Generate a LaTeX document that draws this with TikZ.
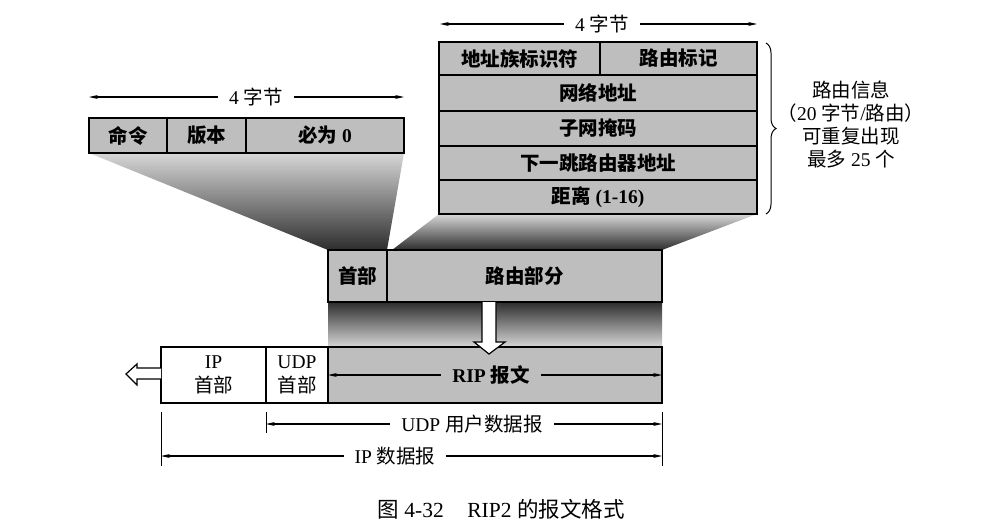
\documentclass[tikz,border=0pt]{standalone}
\usepackage{fontspec}
\setmainfont{Liberation Serif}
\newfontfamily\cjk{Noto Sans CJK SC}
\usetikzlibrary{arrows.meta,decorations.pathreplacing,calc}
\definecolor{boxgray}{RGB}{190,190,190}
\definecolor{darkshade}{RGB}{45,45,45}
\definecolor{lightshade}{RGB}{215,215,215}
\newcommand\myfs{\fontsize{19.5pt}{24pt}\selectfont}
\begin{document}
\begin{tikzpicture}[x=1pt,y=-1pt,
  cell/.style={draw, line width=1.3pt, fill=boxgray, inner sep=0pt, outer sep=0pt, font=\myfs\bfseries, align=center},
  wcell/.style={cell, fill=white, font=\myfs},
  dim/.style={{Stealth[length=9pt,width=4pt]}-{Stealth[length=9pt,width=4pt]}, line width=1.1pt},
  dimlab/.style={fill=white, inner xsep=11pt, inner ysep=2pt, font=\myfs},
  ext/.style={line width=0.9pt},
  hollow/.style={draw, line width=1.2pt, fill=white, line join=miter}
]
\useasboundingbox (0,0) rectangle (999,530);

% shadings
\shade[top color=lightshade, bottom color=darkshade] (89,153) -- (404,153) -- (387,250) -- (328,250) -- cycle;
\shade[top color=lightshade, bottom color=darkshade] (439,214) -- (757,214) -- (662,250) -- (392,250) -- cycle;
\shade[top color=darkshade, bottom color=lightshade] (328,302) rectangle (662,347);

% left header
\node[cell, minimum width=78pt, minimum height=35pt] (cmd) at (128,135.5) {\cjk 命令};
\node[cell, minimum width=79pt, minimum height=35pt] (ver) at (206.5,135.5) {\cjk 版本};
\node[cell, minimum width=158pt, minimum height=35pt] (zero) at (325,135.5) {{\cjk 必为} 0};

% route entry table
\node[cell, minimum width=161pt, minimum height=33pt] (af) at (519.5,58.5) {\cjk 地址族标识符};
\node[cell, minimum width=157pt, minimum height=33pt] (tag) at (678.5,58.5) {\cjk 路由标记};
\node[cell, minimum width=318pt, minimum height=36pt] (net) at (598,93) {\cjk 网络地址};
\node[cell, minimum width=318pt, minimum height=35pt] (mask) at (598,128.5) {\cjk 子网掩码};
\node[cell, minimum width=318pt, minimum height=34pt] (nh) at (598,163) {\cjk 下一跳路由器地址};
\node[cell, minimum width=318pt, minimum height=34pt] (dist) at (598,197) {{\cjk 距离} (1-16)};

% RIP message
\node[cell, minimum width=59pt, minimum height=52pt] (hdr) at (357.5,276) {\cjk 首部};
\node[cell, minimum width=275pt, minimum height=52pt] (rt) at (524.5,276) {\cjk 路由部分};

% bottom row
\node[wcell, minimum width=105pt, minimum height=56pt] (ip) at (213.5,375) {IP\\{\cjk 首部}};
\node[wcell, minimum width=62pt, minimum height=56pt] (udp) at (297,375) {UDP\\{\cjk 首部}};
\node[cell, minimum width=334pt, minimum height=56pt] (rip) at (495,375) {};

% hollow arrows
\draw[hollow] (482,302) -- (482,342) -- (474,342) -- (489,354) -- (505,342) -- (496,342) -- (496,302);
\draw[hollow] (161,368) -- (137,368) -- (137,364) -- (126,374) -- (137,385) -- (137,379) -- (161,379);

% 4-byte dimension lines
\coordinate (tlA) at (89,97);
\coordinate (tlB) at (404,97);
\draw[dim] (tlA) -- (tlB);
\node[dimlab] (tllab) at (256,97) {4 {\cjk 字节}};

\coordinate (trA) at (440,24);
\coordinate (trB) at (757,24);
\draw[dim] (trA) -- (trB);
\node[dimlab] (trlab) at (602,24) {4 {\cjk 字节}};

% brace and note
\draw[line width=1pt, decorate, decoration={brace, amplitude=10pt}] (766,43) -- (766,214);
\node[font=\fontsize{19.5pt}{23pt}\selectfont, align=center] (note) at (851,125) {{\cjk 路由信息}\\{\cjk （}20 {\cjk 字节}/{\cjk 路由）}\\{\cjk 可重复出现}\\{\cjk 最多} 25 {\cjk 个}};

% RIP message length
\coordinate (ripA) at (rip.west);
\coordinate (ripB) at (rip.east);
\draw[dim] (ripA) -- (ripB);
\node[dimlab, fill=boxgray, font=\myfs\bfseries] (riplab) at (491,375) {RIP {\cjk 报文}};

% extension lines
\coordinate (e1a) at (161,412); \coordinate (e1b) at (161,466);
\coordinate (e2a) at (266,412); \coordinate (e2b) at (266,433);
\coordinate (e3a) at (662,412); \coordinate (e3b) at (662,466);
\draw[ext] (e1a) -- (e1b);
\draw[ext] (e2a) -- (e2b);
\draw[ext] (e3a) -- (e3b);

\coordinate (udpA) at (266,424);
\coordinate (udpB) at (662,424);
\draw[dim] (udpA) -- (udpB);
\node[dimlab] (udplab) at (472,424) {UDP {\cjk 用户数据报}};

\coordinate (ipA) at (161,456);
\coordinate (ipB) at (662,456);
\draw[dim] (ipA) -- (ipB);
\node[dimlab] (iplab) at (395,456) {IP {\cjk 数据报}};

% caption
\node[font=\fontsize{21.5pt}{26pt}\selectfont] (cap) at (501,509) {{\cjk 图} 4-32\hspace{1.1em}RIP2 {\cjk 的报文格式}};
\end{tikzpicture}
\end{document}
